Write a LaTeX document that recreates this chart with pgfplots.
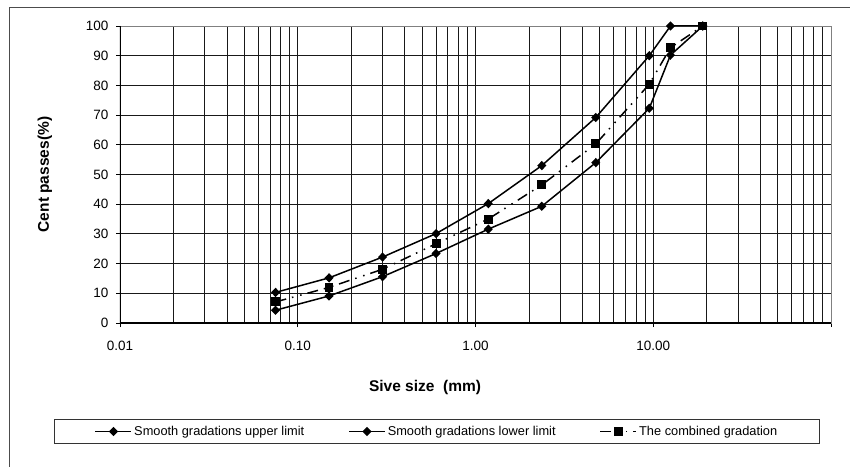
\documentclass[border=0pt]{standalone}
\usepackage{fontspec}
\setmainfont{Liberation Sans}
\usepackage{pgfplots}
\pgfplotsset{compat=1.18}
\begin{document}
\begin{tikzpicture}[x=1pt,y=1pt]
\useasboundingbox (0,0) rectangle (850,466);
\draw[gray!60!black, line width=0.9pt] (9,-2) -- (9,459) -- (852,459);
\begin{axis}[
  at={(120pt,143pt)}, anchor=south west,
  scale only axis, width=711pt, height=297pt,
  xmode=log, xmin=0.01, xmax=100, ymin=0, ymax=100,
  xtick={0.01,0.1,1,10,100}, xticklabels={0.01,0.10,1.00,10.00,},
  minor xtick={0.02,0.03,0.04,0.05,0.06,0.07,0.08,0.09,0.2,0.3,0.4,0.5,0.6,0.7,0.8,0.9,2,3,4,5,6,7,8,9,20,30,40,50,60,70,80,90},
  ytick={0,10,20,30,40,50,60,70,80,90,100},
  grid=both,
  major grid style={black!90, line width=0.95pt},
  minor grid style={black!90, line width=0.95pt},
  tick align=outside, tick pos=left, major tick length=4pt, minor tick length=0pt,
  tick style={black, line width=0.9pt},
  axis line style={gray, line width=0.9pt},
  ticklabel style={font=\fontsize{13.5}{16}\selectfont},
  /pgf/number format/assume math mode=true,
  xticklabel style={anchor=center, yshift=-19pt},
  yticklabel style={xshift=-4pt},
  xlabel={\textbf{Sive size\ \ (mm)}},
  xlabel style={at={(axis description cs:0.429,-0.2155)}, anchor=center, font=\fontsize{15.5}{18}\selectfont},
  ylabel={\textbf{Cent passes(\%)}},
  ylabel style={at={(axis description cs:-0.1055,0.5)}, anchor=center, font=\fontsize{15.5}{18}\selectfont},
  legend style={at={(axis description cs:0.4458,-0.3653)}, anchor=center, legend columns=3,
    draw=black!80, line width=0.9pt, font=\fontsize{12.8}{15}\selectfont,
    inner xsep=40pt, inner ysep=4.5pt,
    /tikz/every even column/.append style={column sep=42pt}},
  legend image code/.code={\draw[mark repeat=2,mark phase=2,#1] plot coordinates {(0pt,0pt)(18pt,0pt)(36pt,0pt)};},
]
\addplot[black, line width=1.5pt, mark=diamond*, mark size=3.6pt, mark options={xscale=1.3}] coordinates {
(0.075,10.3)(0.15,15.2)(0.3,22.2)(0.6,30.1)(1.18,40.2)(2.36,53)(4.75,69.2)(9.5,90)(12.5,100)(19,100)};
\addlegendentry{Smooth gradations upper limit}
\addplot[black, line width=1.5pt, mark=diamond*, mark size=3.6pt, mark options={xscale=1.3}] coordinates {
(0.075,4.3)(0.15,9.1)(0.3,15.6)(0.6,23.4)(1.18,31.6)(2.36,39.3)(4.75,54)(9.5,72.3)(12.5,90.2)(19,100)};
\addlegendentry{Smooth gradations lower limit}
\addplot[black, line width=1.5pt, dash pattern=on 11pt off 6pt on 1.5pt off 7pt on 1.5pt off 6pt, mark=square*, mark size=3.7pt, mark options={solid}] coordinates {
(0.075,7.1)(0.15,12)(0.3,18.1)(0.6,26.7)(1.18,35)(2.36,46.5)(4.75,60.3)(9.5,80.4)(12.5,92.7)(19,100)};
\addlegendentry{The combined gradation}
\draw[black, line width=1.4pt] (rel axis cs:0,1) -- (rel axis cs:0,0) -- (rel axis cs:1,0);
\end{axis}
\end{tikzpicture}
\end{document}
